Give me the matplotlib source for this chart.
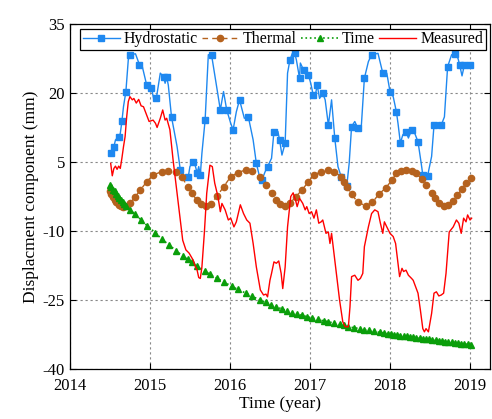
import matplotlib
matplotlib.use('Agg')
from matplotlib import pyplot as plt

plt.rcParams['font.family'] = ['Liberation Serif', 'DejaVu Serif']
plt.rcParams['axes.unicode_minus'] = False

# hydrostatic component
hyd_t = [2014.52, 2014.54, 2014.55, 2014.57, 2014.61, 2014.63, 2014.65, 2014.67, 2014.70, 2014.73,
         2014.75, 2014.82, 2014.87, 2014.90, 2014.96, 2015.00, 2015.02, 2015.05, 2015.08, 2015.13,
         2015.17, 2015.19, 2015.21, 2015.23, 2015.27, 2015.34, 2015.38, 2015.42, 2015.48, 2015.50,
         2015.54, 2015.57, 2015.59, 2015.61, 2015.63, 2015.65, 2015.69, 2015.73, 2015.77, 2015.84,
         2015.88, 2015.92, 2015.96, 2016.01, 2016.04, 2016.08, 2016.12, 2016.18, 2016.23, 2016.29,
         2016.33, 2016.38, 2016.40, 2016.44, 2016.47, 2016.52, 2016.55, 2016.60, 2016.62, 2016.65,
         2016.69, 2016.72, 2016.75, 2016.78, 2016.81, 2016.83, 2016.87, 2016.88, 2016.92, 2016.95,
         2016.98, 2017.01, 2017.04, 2017.06, 2017.09, 2017.12, 2017.16, 2017.19, 2017.23, 2017.27,
         2017.31, 2017.35, 2017.39, 2017.43, 2017.46, 2017.49, 2017.52, 2017.56, 2017.60, 2017.64,
         2017.68, 2017.73, 2017.77, 2017.85, 2017.91, 2017.96, 2018.00, 2018.04, 2018.08, 2018.10,
         2018.13, 2018.16, 2018.20, 2018.23, 2018.27, 2018.31, 2018.35, 2018.39, 2018.41, 2018.45,
         2018.47, 2018.52, 2018.55, 2018.60, 2018.64, 2018.68, 2018.72, 2018.77, 2018.81, 2018.85,
         2018.87, 2018.90, 2018.93, 2018.97, 2019.00, 2019.02]
hyd_v = [6.9, 6.5, 8.3, 9.8, 10.5, 11.2, 13.8, 17.0, 20.3, 27.2,
         28.3, 28.5, 26.1, 26.1, 21.7, 20.6, 21.0, 18.5, 18.8, 24.3,
         23.5, 22.1, 23.5, 21.7, 14.8, 8.3, 3.3, 1.1, 1.8, 4.0,
         5.1, 4.0, 2.6, 4.0, 2.2, 6.9, 14.1, 28.3, 28.3, 20.7,
         16.3, 20.3, 16.3, 13.4, 12.0, 15.9, 18.5, 14.5, 14.8, 9.8,
         4.7, 1.1, 1.1, 2.9, 4.0, 5.8, 11.6, 11.6, 9.8, 6.5,
         9.1, 24.3, 27.2, 28.6, 28.6, 27.2, 23.2, 26.5, 25.0, 23.9,
         23.9, 22.1, 19.6, 18.8, 21.7, 18.8, 19.9, 18.5, 13.0, 18.5,
         10.2, 4.0, 1.8, 0.4, -0.2, 4.7, 12.7, 13.8, 12.3, 12.3,
         23.2, 26.8, 28.3, 28.6, 24.3, 24.3, 20.3, 19.2, 15.9, 13.4,
         9.1, 10.9, 11.6, 10.2, 12.0, 11.2, 9.4, 4.7, 2.2, 2.2,
         2.0, 6.2, 13.0, 13.3, 13.0, 14.8, 25.7, 28.3, 28.5, 27.5,
         26.1, 23.7, 26.1, 26.5, 26.1, 26.3]

# thermal component
thr_t = [2014.50, 2014.52, 2014.54, 2014.56, 2014.58, 2014.60, 2014.62, 2014.64, 2014.66, 2014.70,
         2014.75, 2014.82, 2014.88, 2014.96, 2015.04, 2015.15, 2015.23, 2015.32, 2015.40, 2015.47,
         2015.52, 2015.59, 2015.64, 2015.70, 2015.76, 2015.84, 2015.92, 2016.01, 2016.10, 2016.20,
         2016.28, 2016.37, 2016.45, 2016.52, 2016.57, 2016.62, 2016.69, 2016.75, 2016.82, 2016.90,
         2016.98, 2017.05, 2017.14, 2017.22, 2017.30, 2017.39, 2017.43, 2017.46, 2017.52, 2017.60,
         2017.70, 2017.78, 2017.86, 2017.95, 2018.02, 2018.08, 2018.14, 2018.20, 2018.27, 2018.33,
         2018.40, 2018.45, 2018.52, 2018.56, 2018.61, 2018.67, 2018.73, 2018.79, 2018.84, 2018.90,
         2018.95, 2019.01]
thr_v = [-1.4, -2.0, -2.6, -3.2, -3.6, -4.0, -4.3, -4.5, -4.7, -4.5,
         -4.0, -2.5, -1.1, 0.7, 2.2, 2.9, 3.1, 2.9, 1.8, -0.4,
         -1.8, -3.3, -4.2, -4.5, -4.1, -2.4, -0.4, 1.8, 2.7, 3.3,
         3.0, 1.8, -0.1, -1.8, -3.3, -4.2, -4.5, -4.0, -2.6, -1.1,
         0.7, 2.2, 2.9, 3.3, 2.9, 1.8, 0.7, -0.4, -2.0, -3.8,
         -4.5, -3.8, -2.0, -0.6, 1.0, 2.5, 3.0, 3.3, 3.1, 2.5,
         1.2, 0.0, -1.7, -2.9, -4.0, -4.6, -4.3, -3.5, -2.2, -0.9,
         0.4, 1.5]

# time component
tim_t = [2014.50, 2014.52, 2014.54, 2014.56, 2014.58, 2014.60, 2014.62, 2014.64, 2014.66, 2014.68,
         2014.70, 2014.75, 2014.82, 2014.89, 2014.97, 2015.07, 2015.15, 2015.24, 2015.33, 2015.41,
         2015.47, 2015.52, 2015.59, 2015.69, 2015.75, 2015.84, 2015.92, 2016.02, 2016.10, 2016.20,
         2016.28, 2016.38, 2016.45, 2016.51, 2016.58, 2016.65, 2016.71, 2016.78, 2016.84, 2016.90,
         2016.96, 2017.03, 2017.10, 2017.17, 2017.23, 2017.30, 2017.37, 2017.42, 2017.48, 2017.55,
         2017.62, 2017.68, 2017.74, 2017.80, 2017.87, 2017.93, 2017.97, 2018.01, 2018.05, 2018.09,
         2018.13, 2018.17, 2018.21, 2018.25, 2018.29, 2018.33, 2018.37, 2018.41, 2018.45, 2018.49,
         2018.53, 2018.57, 2018.61, 2018.65, 2018.69, 2018.73, 2018.77, 2018.81, 2018.85, 2018.89,
         2018.93, 2018.97, 2019.01]
tim_v = [0.0, -0.5, -1.0, -1.4, -1.9, -2.4, -2.8, -3.2, -3.7, -4.1,
         -4.5, -5.4, -6.4, -7.6, -8.9, -10.4, -11.8, -13.0, -14.3, -15.4,
         -16.1, -16.7, -17.6, -18.7, -19.4, -20.3, -21.0, -22.0, -22.7, -23.5,
         -24.2, -25.0, -25.5, -26.0, -26.5, -26.9, -27.3, -27.7, -28.0, -28.3,
         -28.6, -28.9, -29.2, -29.5, -29.7, -30.0, -30.3, -30.5, -30.8, -31.0,
         -31.2, -31.4, -31.6, -31.8, -32.0, -32.2, -32.3, -32.4, -32.5, -32.6,
         -32.7, -32.8, -32.9, -33.0, -33.1, -33.2, -33.3, -33.4, -33.5, -33.55,
         -33.65, -33.75, -33.85, -33.9, -34.0, -34.1, -34.2, -34.25, -34.35, -34.45,
         -34.5, -34.6, -34.7]

# measured displacement
mea_t = [2014.51, 2014.53, 2014.55, 2014.57, 2014.59, 2014.61, 2014.63, 2014.65, 2014.67, 2014.69,
         2014.71, 2014.73, 2014.75, 2014.78, 2014.80, 2014.83, 2014.86, 2014.89, 2014.92, 2014.96,
         2014.99, 2015.04, 2015.07, 2015.09, 2015.13, 2015.16, 2015.19, 2015.21, 2015.25, 2015.29,
         2015.34, 2015.38, 2015.41, 2015.45, 2015.49, 2015.54, 2015.57, 2015.59, 2015.61, 2015.63,
         2015.65, 2015.68, 2015.71, 2015.75, 2015.78, 2015.81, 2015.85, 2015.88, 2015.90, 2015.94,
         2015.98, 2016.01, 2016.05, 2016.08, 2016.13, 2016.17, 2016.21, 2016.25, 2016.29, 2016.33,
         2016.38, 2016.42, 2016.45, 2016.47, 2016.50, 2016.52, 2016.55, 2016.58, 2016.61, 2016.64,
         2016.66, 2016.69, 2016.72, 2016.76, 2016.79, 2016.82, 2016.84, 2016.87, 2016.91, 2016.94,
         2016.96, 2016.99, 2017.02, 2017.05, 2017.08, 2017.11, 2017.14, 2017.16, 2017.20, 2017.23,
         2017.25, 2017.27, 2017.29, 2017.33, 2017.37, 2017.41, 2017.44, 2017.48, 2017.50, 2017.52,
         2017.56, 2017.60, 2017.63, 2017.66, 2017.68, 2017.73, 2017.77, 2017.81, 2017.85, 2017.88,
         2017.91, 2017.93, 2017.96, 2018.00, 2018.04, 2018.07, 2018.09, 2018.12, 2018.15, 2018.17,
         2018.20, 2018.23, 2018.27, 2018.29, 2018.32, 2018.35, 2018.38, 2018.41, 2018.43, 2018.45,
         2018.48, 2018.52, 2018.55, 2018.58, 2018.61, 2018.64, 2018.67, 2018.70, 2018.74, 2018.79,
         2018.83, 2018.86, 2018.89, 2018.92, 2018.95, 2018.97, 2019.00, 2019.02]
mea_v = [4.7, 2.0, 3.6, 4.1, 3.4, 4.1, 3.6, 5.8, 8.3, 10.5,
         14.8, 18.1, 19.2, 18.5, 18.8, 17.8, 18.6, 17.2, 17.0, 15.2,
         13.8, 14.1, 13.4, 12.5, 14.5, 16.3, 14.1, 14.5, 12.0, 5.4,
         -1.8, -7.6, -12.0, -14.1, -14.8, -16.3, -17.8, -18.5, -20.1, -20.3,
         -17.8, -10.5, -1.8, 4.3, 4.0, 0.4, -2.5, -5.8, -4.0, -5.4,
         -7.6, -7.2, -9.1, -8.0, -4.3, -6.2, -7.6, -8.3, -12.7, -17.8,
         -22.8, -23.9, -23.7, -24.3, -20.7, -19.2, -16.7, -17.0, -16.5, -19.2,
         -22.5, -17.8, -9.1, -2.5, -1.7, -3.3, -4.7, -2.9, -4.0, -5.4,
         -4.7, -6.2, -5.8, -7.2, -5.4, -8.3, -8.0, -7.6, -10.5, -10.2,
         -12.7, -10.5, -13.4, -19.2, -25.0, -29.7, -30.8, -30.8, -26.5, -19.9,
         -19.6, -20.7, -20.3, -19.2, -13.4, -9.1, -6.2, -5.4, -5.8, -8.3,
         -10.5, -8.0, -9.1, -10.5, -11.2, -12.7, -15.6, -19.9, -18.1, -18.8,
         -18.5, -19.6, -20.3, -20.7, -22.1, -23.5, -27.2, -31.2, -31.9, -31.2,
         -31.9, -27.9, -23.5, -23.2, -24.1, -23.9, -23.5, -19.2, -10.2, -9.1,
         -7.6, -8.3, -10.5, -7.2, -8.0, -6.5, -7.6, -7.2]

x_ticks = [2014, 2015, 2016, 2017, 2018, 2019]
y_ticks = [-40, -25, -10, 5, 20, 35]

fig = plt.figure(figsize=(4.92, 4.19), dpi=100)
ax = fig.add_axes([0.142, 0.119, 0.854, 0.824])

ax.plot(hyd_t, hyd_v, '-', color='#1E88F0', lw=1.0, marker='s', ms=3.8, markevery=2,
        label='Hydrostatic')
ax.plot(thr_t, thr_v, '--', color='#B5621E', lw=1.0, marker='o', ms=4.5, dashes=(4, 3),
        label='Thermal')
ax.plot(tim_t, tim_v, ':', color='#0A9E0A', lw=1.2, marker='^', ms=4.5, label='Time')
ax.plot(mea_t, mea_v, '-', color='#FF0000', lw=1.0, label='Measured')

ax.set_xlim(2014, 2019.25)
ax.set_ylim(-40, 35)
ax.set_xticks(x_ticks)
ax.set_yticks(y_ticks)
ax.grid(True, color='#888888', linestyle=(0, (2, 2.5)), lw=0.8)
ax.tick_params(direction='in', top=True, right=True, labelsize=12, length=4)
ax.tick_params(axis='x', pad=6.5)
for s in ax.spines.values():
    s.set_linewidth(0.9)

ax.set_xlabel('Time (year)', fontsize=12.5, labelpad=1)
ax.set_ylabel('Displacment component (mm)', fontsize=12.5, labelpad=3)

leg = ax.legend(loc='upper right', bbox_to_anchor=(0.997, 0.995), ncol=4, fontsize=11.4,
                frameon=True, fancybox=False, edgecolor='black', framealpha=1,
                handlelength=2.35, handletextpad=0.25, columnspacing=0.25,
                borderpad=0.15, borderaxespad=0.2)
leg.get_frame().set_linewidth(0.9)

fig.savefig('out.png', dpi=100)
